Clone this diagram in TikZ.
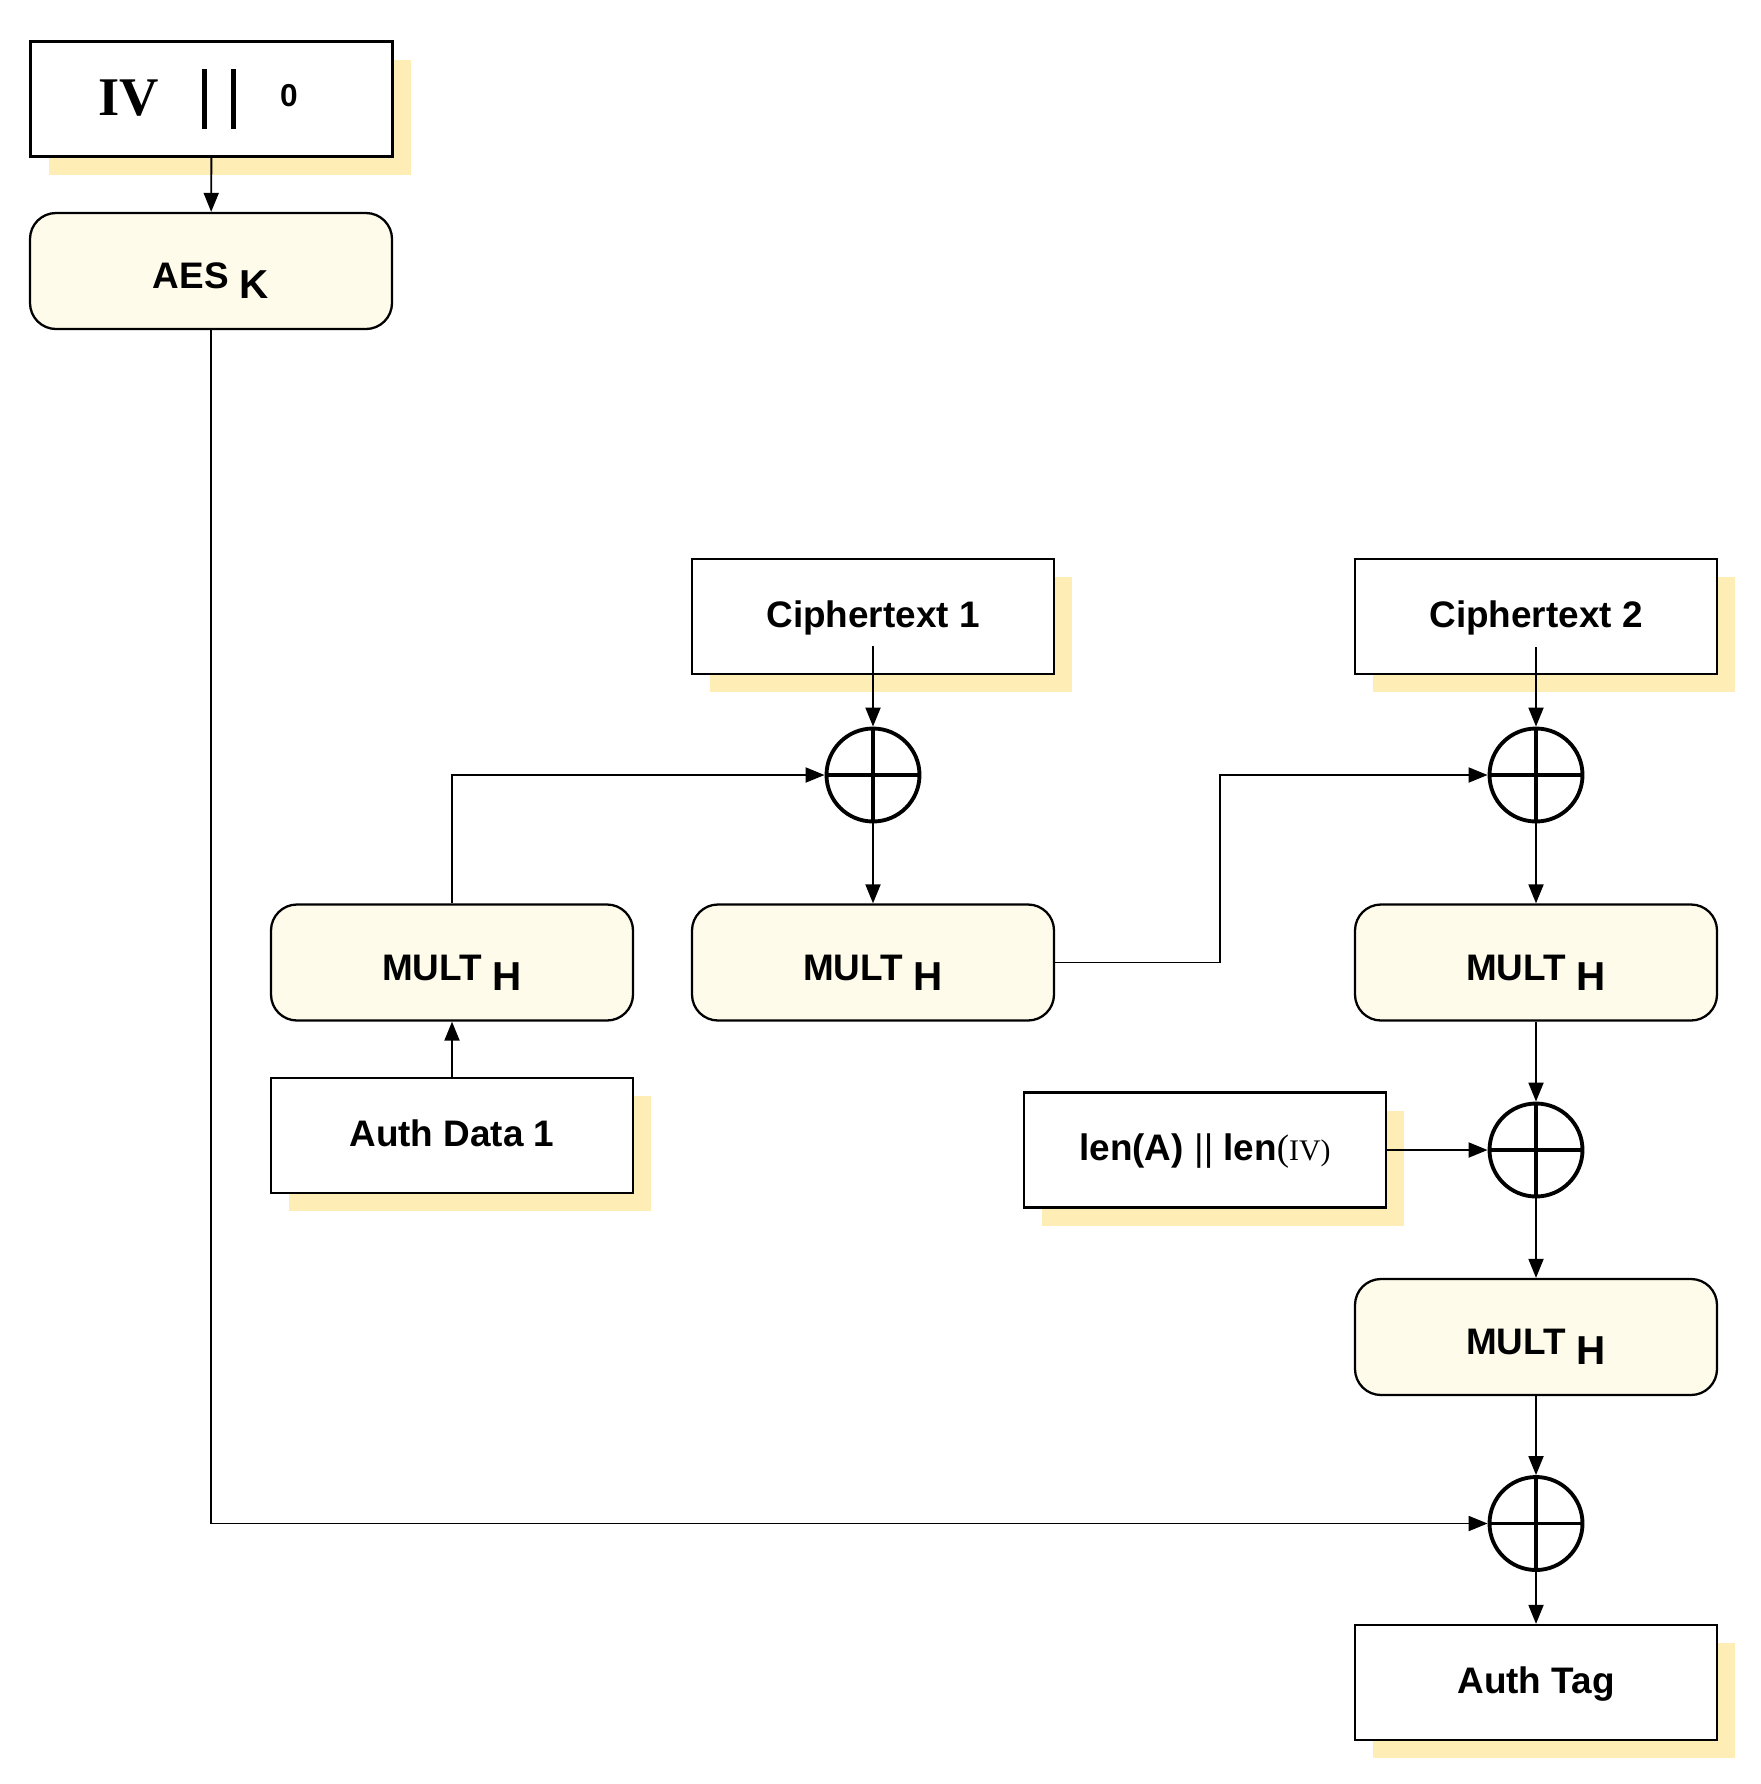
\documentclass[tikz,border=0pt]{standalone}
\usepackage{fontspec}
\setmainfont{Liberation Sans}
\newfontfamily\ivfont{Liberation Serif}
\usepackage{xcolor}
\usepackage{tikz}
\usetikzlibrary{arrows.meta,calc,positioning,shadows}
\definecolor{shadowyellow}{HTML}{FFEDB6}
\definecolor{multfill}{HTML}{FFFBEB}
\newcommand{\multH}{\textbf{MULT}\hspace{0.11cm}\raisebox{-0.1cm}{\fontsize{11.5}{12}\selectfont\textbf{H}}}

\begin{document}
\begin{tikzpicture}[scale=1.0,
    font=\fontsize{10.5}{12}\selectfont,
    plainbox/.style={draw, line width=0.65pt, fill=white, minimum width=3.62cm, minimum height=1.15cm, inner sep=0pt,
        text height=0.21cm, text depth=0pt,
        drop shadow={shadow xshift=0.18cm, shadow yshift=-0.18cm, fill=shadowyellow, opacity=1}},
    multbox/.style={draw, line width=0.65pt, fill=multfill, rounded corners=0.26cm, minimum width=3.62cm, minimum height=1.16cm, inner sep=0pt,
        text height=0.35cm, text depth=0pt},
    xorsum/.style={circle, draw, line width=1.1pt, minimum size=0.93cm, inner sep=0pt,
        path picture={\draw[line width=0.9pt] (path picture bounding box.north) -- (path picture bounding box.south)
            (path picture bounding box.west) -- (path picture bounding box.east);}},
    arr/.style={-{Triangle[length=0.19cm,width=0.15cm]}, line width=0.55pt}]
    \useasboundingbox (0,0) rectangle (17.61,-17.84);

    % LEFT: counter block and key
    \node[plainbox, text height=0.46cm, text depth=0.14cm] (iv) at (2.115,-0.99) {\makebox[3.61cm][l]{\hspace{0.67cm}{\ivfont\fontsize{15.5}{16}\selectfont\bfseries IV}\hspace{0.435cm}\rule[-0.14cm]{0.05cm}{0.6cm}\hspace{0.24cm}\rule[-0.14cm]{0.05cm}{0.6cm}\hspace{0.44cm}\raisebox{0.09cm}{\fontsize{9}{9}\selectfont\bfseries 0}}};
    \node[multbox] (aes) at (2.11,-2.71) {\textbf{AES}\hspace{0.11cm}\raisebox{-0.1cm}{\fontsize{11.5}{12}\selectfont\textbf{K}}};
    \draw[arr] (iv) -- (aes);

    % MIDDLE: first block
    \node[plainbox] (ct1) at (8.73,-6.165) {\textbf{Ciphertext 1}};
    \node[xorsum] (x1) at (8.73,-7.75) {};
    \node[multbox] (m1) at (4.52,-9.625) {\multH};
    \node[multbox] (m2) at (8.73,-9.625) {\multH};
    \node[plainbox] (ad) at (4.52,-11.355) {\textbf{Auth Data 1}};
    \draw[arr] ([yshift=0.29cm]ct1.south) -- (x1);
    \draw[arr] (ad) -- (m1);
    \draw[arr] (m1) |- (x1);
    \draw[arr] (x1) -- (m2);

    % RIGHT: second block, lengths and tag
    \node[plainbox] (ct2) at (15.36,-6.165) {\textbf{Ciphertext 2}};
    \node[xorsum] (x2) at (15.36,-7.75) {};
    \node[multbox] (m3) at (15.36,-9.625) {\multH};
    \node[plainbox] (len) at (12.05,-11.5) {\textbf{len(A)} || \textbf{len}{\ivfont(\fontsize{8.5}{9}\selectfont IV)}};
    \node[xorsum] (x3) at (15.36,-11.5) {};
    \node[multbox] (m4) at (15.36,-13.37) {\multH};
    \node[xorsum] (x4) at (15.36,-15.235) {};
    \node[plainbox] (tag) at (15.36,-16.825) {\textbf{Auth Tag}};
    \draw[arr] ([yshift=0.28cm]ct2.south) -- (x2);
    \draw[arr] (m2.east) -- ++(1.65,0) |- (x2);
    \draw[arr] (x2) -- (m3);
    \draw[arr] (m3) -- (x3);
    \draw[arr] (len) -- (x3);
    \draw[arr] (x3) -- (m4);
    \draw[arr] (m4) -- (x4);
    \draw[arr] (aes) |- (x4);
    \draw[arr] (x4) -- (tag);
\end{tikzpicture}
\end{document}
